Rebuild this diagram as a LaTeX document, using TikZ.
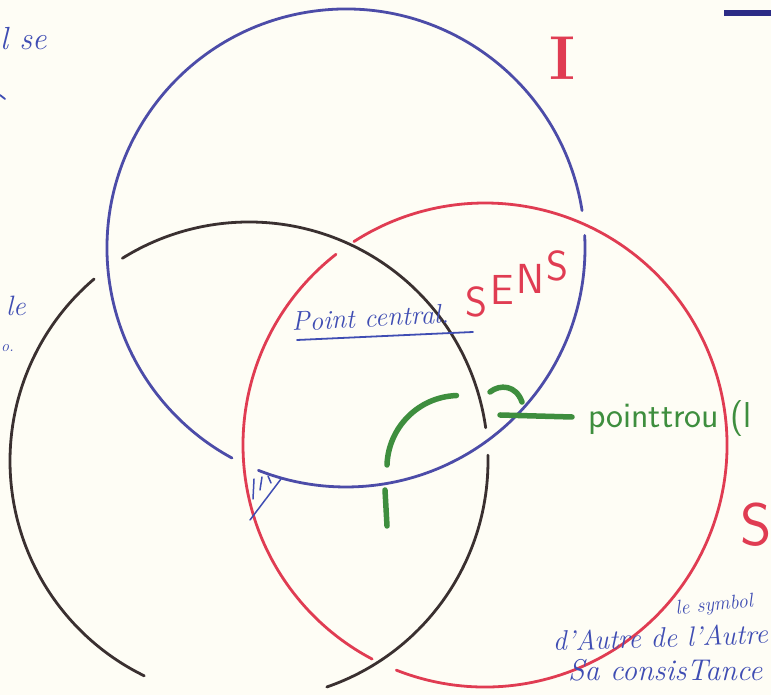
\documentclass[tikz,border=0pt]{standalone}
\usepackage{fontspec}
\definecolor{paper}{HTML}{FEFDF5}
\definecolor{inkblue}{HTML}{4C4CA8}
\definecolor{penblue}{HTML}{3F4DB3}
\definecolor{inkred}{HTML}{E03C52}
\definecolor{inkblack}{HTML}{3A3030}
\definecolor{inkgreen}{HTML}{3E8E3E}
\definecolor{navy}{HTML}{2C2C86}
\tikzset{
  ring/.style={line width=2.8pt, line cap=round},
  bluering/.style={ring, draw=inkblue},
  redring/.style={ring, draw=inkred},
  blackring/.style={ring, draw=inkblack},
  greenpen/.style={draw=inkgreen, line width=5.5pt, line cap=round},
  bluehand/.style={text=penblue, font=\itshape, inner sep=0pt},
  bluestroke/.style={draw=penblue, line width=1.8pt, line cap=round},
  sensletter/.style={text=inkred, font=\sffamily\fontsize{42}{42}\selectfont, inner sep=0pt},
}
\begin{document}
\begin{tikzpicture}[x=1pt,y=1pt]
\useasboundingbox (0,0) rectangle (771,695);
\fill[paper] (0,0) rectangle (771,695);
\clip (0,0) rectangle (771,695);

% centres of the three rings
\coordinate (cB) at (346,447);
\coordinate (cK) at (249,234);
\coordinate (cR) at (485,250);

% blue ring (I)
\draw[bluering] (cB) ++(9:239) arc[start angle=9, end angle=241.5, radius=239];
\draw[bluering] (cB) ++(248.5:239) arc[start angle=248.5, end angle=363, radius=239];
% black ring
\draw[blackring] (cK) ++(8:239) arc[start angle=8, end angle=122, radius=239];
\draw[blackring] (cK) ++(130.4:239) arc[start angle=130.4, end angle=244, radius=239];
\draw[blackring] (cK) ++(289:239) arc[start angle=289, end angle=361.4, radius=239];
% red ring
\draw[redring] (cR) ++(128:242) arc[start angle=128, end angle=242.2, radius=242];
\draw[redring] (cR) ++(248.5:242) arc[start angle=248.5, end angle=482.8, radius=242];

% labels
\node[text=inkred, font=\fontsize{62}{62}\selectfont\bfseries, inner sep=0pt] (lI) at (562,637) {I};
\node[sensletter] (sens1) at (476,393) {S};
\node[sensletter] (sens2) at (502,405) {E};
\node[sensletter] (sens3) at (530,416) {N};
\node[sensletter] (sens4) at (557,429) {S};
\node[text=inkred, font=\sffamily\fontsize{60}{60}\selectfont, anchor=base west, inner sep=0pt] (lS) at (740,149) {S};

\node[bluehand, font=\itshape\fontsize{27}{27}\selectfont, anchor=base west, rotate=3] (lPc) at (292,364) {Point central.};
\coordinate (ul1) at (297,355);
\coordinate (ul2) at (473,363);
\draw[bluestroke] (ul1) -- (ul2);

% green point-trou
\coordinate (g1) at (387,230);
\coordinate (g2) at (458,300);
\draw[greenpen] (g1) arc[start angle=178, end angle=92, radius=72];
\coordinate (g3) at (385,205);
\coordinate (g4) at (387,169);
\draw[greenpen] (g3) -- (g4);
\coordinate (g5) at (490,303);
\coordinate (g6) at (522,293);
\draw[greenpen] (g5) .. controls (500,311) and (516,310) .. (g6);
\coordinate (g7) at (500,280);
\coordinate (g8) at (572,278);
\draw[greenpen] (g7) -- (g8);
\node[text=inkgreen, font=\sffamily\fontsize{36}{36}\selectfont, anchor=base west, inner sep=0pt] (lPt) at (588,267) {pointtrou (l};

% hatch
\coordinate (h1) at (254,216); \coordinate (h1b) at (253,196);
\coordinate (h2) at (262,218); \coordinate (h2b) at (260,205);
\coordinate (h3) at (268,219); \coordinate (h3b) at (271,212);
\coordinate (h4) at (250,175); \coordinate (h4b) at (281,216);
\draw[bluestroke, line width=1.5pt] (h1) -- (h1b) (h2) -- (h2b) (h3) -- (h3b) (h4) -- (h4b);

% left margin fragments
\node[bluehand, font=\itshape\fontsize{32}{32}\selectfont, anchor=base west] (lSe) at (0,645) {l se};
\coordinate (m1) at (0,600); \coordinate (m2) at (5,596);
\draw[bluestroke] (m1) -- (m2);
\node[bluehand, font=\itshape\fontsize{28}{28}\selectfont, anchor=base east] (lLe) at (26,379) {le};
\node[bluehand, font=\itshape\fontsize{16}{16}\selectfont, anchor=base west] (lO) at (1,343) {o.};

% bottom-right handwriting
\node[bluehand, font=\itshape\fontsize{20}{20}\selectfont, anchor=base west, rotate=6] (lSym) at (676,80) {le symbol};
\node[bluehand, font=\itshape\fontsize{28}{28}\selectfont, anchor=base west, rotate=2] (lAut) at (553,44) {d'Autre de l'Autre};
\node[bluehand, font=\itshape\fontsize{30}{30}\selectfont, anchor=base west] (lCons) at (568,14) {Sa consisTance};

% top-right bar
\coordinate (n1) at (724,682); \coordinate (n2) at (775,682);
\draw[navy, line width=6pt] (n1) -- (n2);
\end{tikzpicture}
\end{document}
